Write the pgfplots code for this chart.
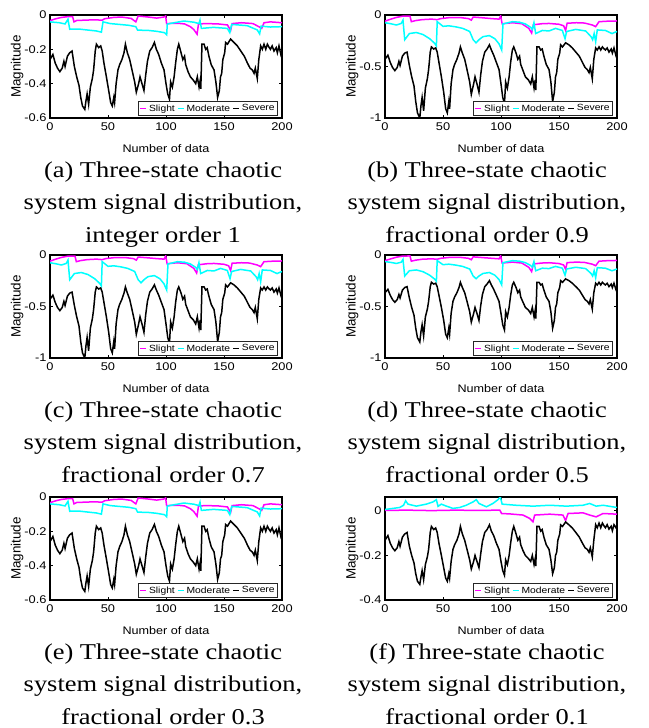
\documentclass[border=0pt]{standalone}
\usepackage{fontspec}
\setmainfont{Liberation Sans}[FakeStretch=1.15]
\newfontfamily\ylabfont{Liberation Sans}
\newfontfamily\capfont{Liberation Serif}[FakeStretch=1.17]
\usepackage{pgfplots}
\pgfplotsset{compat=1.18}
\usepackage{pgfplotstable}
\definecolor{mag}{RGB}{255,0,255}
\definecolor{cya}{RGB}{0,255,255}

% Severe: a = panels (a),(e); b = panels (b),(c); d = panel (d); f = panel (f)
\pgfplotstableread{
x a b d f
0 -0.26 -0.43 -0.366 -0.132
2.5 -0.23 -0.39 -0.333 -0.111
4.5 -0.28 -0.46 -0.391 -0.145
6.5 -0.31 -0.51 -0.433 -0.166
8.5 -0.33 -0.54 -0.459 -0.179
10.5 -0.31 -0.51 -0.433 -0.166
12 -0.27 -0.45 -0.383 -0.138
13 -0.30 -0.49 -0.417 -0.159
15 -0.24 -0.40 -0.341 -0.118
17 -0.22 -0.37 -0.316 -0.104
19 -0.21 -0.36 -0.307 -0.097
21 -0.30 -0.49 -0.417 -0.159
23 -0.36 -0.60 -0.509 -0.200
25 -0.41 -0.69 -0.585 -0.234
26.5 -0.48 -0.84 -0.711 -0.282
28 -0.53 -0.95 -0.803 -0.316
30 -0.55 -1.00 -0.845 -0.330
31 -0.50 -0.88 -0.744 -0.296
32 -0.46 -0.80 -0.677 -0.268
33.3 -0.52 -0.93 -0.786 -0.309
34.8 -0.42 -0.71 -0.601 -0.241
36.5 -0.37 -0.62 -0.526 -0.207
37.6 -0.32 -0.53 -0.450 -0.173
39 -0.21 -0.36 -0.307 -0.097
40 -0.17 -0.31 -0.265 -0.070
42 -0.19 -0.33 -0.282 -0.084
43.7 -0.18 -0.32 -0.274 -0.077
45 -0.21 -0.36 -0.307 -0.097
46.5 -0.28 -0.46 -0.391 -0.145
48.6 -0.36 -0.60 -0.509 -0.200
50.6 -0.44 -0.75 -0.635 -0.255
52.3 -0.51 -0.91 -0.769 -0.302
53.7 -0.53 -0.95 -0.803 -0.316
55 -0.48 -0.84 -0.711 -0.282
55.7 -0.51 -0.91 -0.769 -0.302
57 -0.40 -0.67 -0.568 -0.227
58.6 -0.32 -0.53 -0.450 -0.173
60 -0.29 -0.48 -0.408 -0.152
62 -0.26 -0.43 -0.366 -0.132
63.8 -0.22 -0.37 -0.316 -0.104
65 -0.17 -0.31 -0.265 -0.070
66.7 -0.22 -0.37 -0.316 -0.104
68.7 -0.26 -0.43 -0.366 -0.132
70.7 -0.32 -0.53 -0.450 -0.173
73 -0.39 -0.65 -0.551 -0.220
74.4 -0.45 -0.77 -0.652 -0.261
76.4 -0.40 -0.67 -0.568 -0.227
77.6 -0.36 -0.60 -0.509 -0.200
79.3 -0.40 -0.67 -0.568 -0.227
81 -0.44 -0.75 -0.635 -0.255
82.5 -0.35 -0.58 -0.492 -0.193
84 -0.27 -0.45 -0.383 -0.138
86 -0.21 -0.36 -0.307 -0.097
88 -0.19 -0.33 -0.282 -0.084
90 -0.16 -0.29 -0.249 -0.063
91.7 -0.20 -0.34 -0.291 -0.091
93.7 -0.23 -0.39 -0.333 -0.111
96 -0.28 -0.46 -0.391 -0.145
98.3 -0.32 -0.53 -0.450 -0.173
100 -0.40 -0.67 -0.568 -0.227
101.5 -0.46 -0.80 -0.677 -0.268
103 -0.49 -0.86 -0.727 -0.289
104 -0.39 -0.65 -0.551 -0.220
105.5 -0.42 -0.71 -0.601 -0.241
107 -0.36 -0.60 -0.509 -0.200
108.3 -0.28 -0.46 -0.391 -0.145
109.8 -0.20 -0.34 -0.291 -0.091
111 -0.17 -0.31 -0.265 -0.070
113 -0.22 -0.37 -0.316 -0.104
114.5 -0.26 -0.43 -0.366 -0.132
116 -0.24 -0.40 -0.341 -0.118
117 -0.29 -0.48 -0.408 -0.152
119 -0.33 -0.54 -0.459 -0.179
121 -0.36 -0.60 -0.509 -0.200
123.6 -0.38 -0.63 -0.534 -0.214
125.6 -0.40 -0.67 -0.568 -0.227
127 -0.36 -0.60 -0.509 -0.200
128.5 -0.42 -0.71 -0.601 -0.241
129.5 -0.38 -0.63 -0.534 -0.214
130 -0.43 -0.73 -0.618 -0.248
131 -0.17 -0.31 -0.265 -0.070
132.8 -0.17 -0.31 -0.265 -0.070
134.2 -0.20 -0.34 -0.291 -0.091
135.5 -0.19 -0.33 -0.282 -0.084
137 -0.24 -0.40 -0.341 -0.118
139 -0.29 -0.48 -0.408 -0.152
141.4 -0.32 -0.53 -0.450 -0.173
143 -0.39 -0.65 -0.551 -0.220
144.5 -0.48 -0.84 -0.711 -0.282
146 -0.44 -0.75 -0.635 -0.255
147 -0.36 -0.60 -0.509 -0.200
148 -0.34 -0.56 -0.475 -0.186
149 -0.26 -0.43 -0.366 -0.132
150.6 -0.22 -0.37 -0.316 -0.104
151.4 -0.16 -0.29 -0.249 -0.063
153 -0.17 -0.31 -0.265 -0.070
155.7 -0.14 -0.27 -0.232 -0.050
158.6 -0.16 -0.29 -0.249 -0.063
161.5 -0.18 -0.32 -0.274 -0.077
164.5 -0.21 -0.36 -0.307 -0.097
167.5 -0.24 -0.40 -0.341 -0.118
170.2 -0.28 -0.46 -0.391 -0.145
172.5 -0.31 -0.51 -0.433 -0.166
174.4 -0.32 -0.53 -0.450 -0.173
175.9 -0.34 -0.56 -0.475 -0.186
177 -0.31 -0.51 -0.433 -0.166
178.7 -0.37 -0.62 -0.526 -0.207
180 -0.26 -0.43 -0.366 -0.132
181.6 -0.18 -0.32 -0.274 -0.062
183 -0.20 -0.34 -0.291 -0.076
184.5 -0.17 -0.31 -0.265 -0.055
186 -0.20 -0.34 -0.291 -0.076
187.4 -0.17 -0.31 -0.265 -0.055
189 -0.19 -0.33 -0.282 -0.069
190 -0.20 -0.34 -0.291 -0.076
191.5 -0.18 -0.32 -0.274 -0.062
193.1 -0.21 -0.36 -0.307 -0.082
195 -0.19 -0.33 -0.282 -0.069
196 -0.22 -0.37 -0.316 -0.089
197.4 -0.18 -0.32 -0.274 -0.062
199 -0.23 -0.39 -0.333 -0.075
200 -0.21 -0.36 -0.307 -0.065
}\sev

\pgfplotstableread{
x y
0 -0.033
5 -0.022
10 -0.014
15 -0.010
19.5 -0.010
20.7 -0.040
23 -0.032
30 -0.030
38 -0.028
45 -0.030
47 -0.022
55 -0.014
62 -0.012
70 -0.020
74 -0.040
76 -0.006
85 -0.012
92 -0.018
98 -0.012
99.7 -0.006
100.5 -0.050
110 -0.048
116 -0.052
121 -0.068
124 -0.085
126.8 -0.112
128 -0.052
135 -0.050
145 -0.052
153 -0.058
155.7 -0.090
157 -0.050
165 -0.045
175 -0.050
180 -0.068
182.5 -0.078
184.5 -0.045
190 -0.040
200 -0.045
}\slA

\pgfplotstableread{
x y
0 -0.040
8 -0.045
13 -0.052
15.5 -0.025
17 -0.083
25 -0.082
33 -0.088
40 -0.093
44.3 -0.100
45.7 -0.040
52 -0.050
60 -0.055
68 -0.060
74 -0.068
75.5 -0.088
85 -0.090
92 -0.095
98.8 -0.103
100.6 -0.115
101.1 -0.053
107 -0.045
115.5 -0.035
124 -0.042
128.4 -0.050
129.3 -0.030
130.5 -0.078
141 -0.072
152.9 -0.078
155 -0.103
156.6 -0.055
170 -0.062
178.7 -0.087
180.7 -0.110
182 -0.065
190 -0.070
200 -0.068
}\mdA

\pgfplotstableread{
x y
0 -0.060
5 -0.040
10 -0.023
15 -0.012
21.5 -0.010
22.7 -0.065
26 -0.055
32 -0.045
40 -0.040
45 -0.045
48 -0.035
56 -0.025
65 -0.025
72 -0.035
74.4 -0.050
76 -0.020
85 -0.028
92 -0.035
98.3 -0.040
99.7 -0.010
101 -0.085
110 -0.075
118 -0.085
124 -0.130
126.4 -0.175
127.9 -0.095
135 -0.085
141.4 -0.082
150 -0.090
154 -0.105
155.7 -0.150
157 -0.080
165 -0.075
172 -0.078
178.7 -0.097
181.6 -0.113
184.5 -0.065
192 -0.060
200 -0.058
}\slB

\pgfplotstableread{
x y
0 -0.075
5 -0.085
9.8 -0.097
14 -0.082
15.5 -0.050
17 -0.240
21 -0.180
27 -0.170
32.8 -0.190
38.5 -0.230
42.8 -0.275
44.3 -0.300
45 -0.065
50 -0.110
55 -0.105
61 -0.115
67 -0.130
73 -0.160
76 -0.240
78.5 -0.270
81 -0.240
84.5 -0.210
90 -0.200
94.7 -0.230
98.3 -0.280
100.6 -0.340
101.7 -0.087
109.8 -0.065
116 -0.070
121 -0.087
125.6 -0.120
127 -0.140
128.4 -0.075
129.9 -0.180
135.6 -0.150
141.4 -0.155
147 -0.130
152.9 -0.150
155.2 -0.230
156.6 -0.160
164.4 -0.140
173 -0.155
177.6 -0.210
179 -0.240
180.3 -0.180
181.6 -0.260
183 -0.145
190 -0.150
195.7 -0.180
200 -0.160
}\mdB

\pgfplotstableread{
x y
0 -0.055
5 -0.037
10 -0.021
15 -0.011
21.5 -0.009
22.7 -0.060
26 -0.051
32 -0.041
40 -0.037
45 -0.041
48 -0.032
56 -0.023
65 -0.023
72 -0.032
74.4 -0.046
76 -0.018
85 -0.026
92 -0.032
98.3 -0.037
99.7 -0.009
101 -0.078
110 -0.069
118 -0.078
124 -0.120
126.4 -0.161
127.9 -0.087
135 -0.078
141.4 -0.075
150 -0.083
154 -0.097
155.7 -0.138
157 -0.074
165 -0.069
172 -0.072
178.7 -0.089
181.6 -0.104
184.5 -0.060
192 -0.055
200 -0.053
}\slD

\pgfplotstableread{
x y
0 -0.064
5 -0.072
9.8 -0.082
14 -0.070
15.5 -0.043
17 -0.204
21 -0.153
27 -0.145
32.8 -0.162
38.5 -0.196
42.8 -0.234
44.3 -0.255
45 -0.055
50 -0.094
55 -0.089
61 -0.098
67 -0.111
73 -0.136
76 -0.204
78.5 -0.230
81 -0.204
84.5 -0.179
90 -0.170
94.7 -0.196
98.3 -0.238
100.6 -0.289
101.7 -0.074
109.8 -0.055
116 -0.060
121 -0.074
125.6 -0.102
127 -0.119
128.4 -0.064
129.9 -0.153
135.6 -0.128
141.4 -0.132
147 -0.111
152.9 -0.128
155.2 -0.196
156.6 -0.136
164.4 -0.119
173 -0.132
177.6 -0.179
179 -0.204
180.3 -0.153
181.6 -0.221
183 -0.123
190 -0.128
195.7 -0.153
200 -0.136
}\mdD

\pgfplotstableread{
x y
0 0.002
20 0.003
40 0.001
60 0.003
80 0.002
99 0.003
100.5 -0.012
108 -0.014
119 -0.019
124.7 -0.034
127.6 -0.049
129 -0.019
142 -0.015
153.4 -0.019
155.7 -0.044
157.8 -0.012
170.7 -0.009
176.4 -0.019
182 -0.027
188 -0.012
200 -0.015
}\slF

\pgfplotstableread{
x y
0 0.006
12.6 0.015
16 0.025
17.8 0.045
19.8 0.030
27 0.021
35.6 0.030
41.4 0.040
44.3 0.050
45.7 0.020
48.6 0.030
52.9 0.021
58.6 0.011
64.4 0.015
70 0.025
75.9 0.040
78.7 0.050
81 0.033
87.4 0.018
93 0.033
97.4 0.050
99.4 0.062
101 0.030
113 0.025
127.6 0.021
142 0.025
156.3 0.021
170.7 0.025
176.4 0.033
182 0.021
188 0.025
200 0.015
}\mdF

\pgfplotsset{
  panel/.style={
    scale only axis, width=232bp, height=103bp, anchor=north west,
    xmin=0, xmax=200, xtick={0,50,100,150,200},
    tick align=inside, tick pos=both, major tick length=3bp,
    axis line style={line width=2bp},
    every tick/.style={black, line width=0.8bp},
    tick label style={font=\fontsize{11.2}{11.2}\selectfont},
    xticklabel style={yshift=-1.5bp},
    /pgf/number format/assume math mode=true,
    xlabel={Number of data}, ylabel={Magnitude},
    xlabel style={font=\fontsize{11}{11}\selectfont, inner sep=1bp, yshift=-9bp},
    ylabel style={font=\ylabfont\fontsize{13.5}{13.5}\selectfont},
    ylabel shift=-6bp,
    legend columns=3,
    legend style={at={(rel axis cs:0.983,0.02)}, anchor=south east,
      font=\fontsize{9}{9}\selectfont, draw=black!85, line width=1.2bp,
      inner sep=0.8bp, row sep=0pt,
      /tikz/every even column/.append style={column sep=0.3bp},
      /tikz/every odd column/.append style={column sep=0pt}},
    legend image code/.code={\draw[#1] (0bp,0bp) -- (6bp,0bp);},
  },
  sl/.style={mag, line width=1.5bp},
  md/.style={cya, line width=1.5bp},
  sv/.style={black, line width=1.5bp},
}

\begin{document}
\begin{tikzpicture}
\useasboundingbox (0,0) rectangle (649bp,-728bp);

% (a)
\begin{axis}[panel, at={(50bp,-15bp)}, ymin=-0.6, ymax=0, ytick={-0.6,-0.4,-0.2,0}]
\addplot[sl] table[x=x,y=y]{\slA};
\addplot[md] table[x=x,y=y]{\mdA};
\addplot[sv] table[x=x,y=a]{\sev};
\legend{Slight,Moderate,Severe}
\end{axis}
% (b)
\begin{axis}[panel, at={(385bp,-15bp)}, ymin=-1, ymax=0, ytick={-1,-0.5,0}]
\addplot[sl] table[x=x,y=y]{\slB};
\addplot[md] table[x=x,y=y]{\mdB};
\addplot[sv] table[x=x,y=b]{\sev};
\legend{Slight,Moderate,Severe}
\end{axis}
% (c)
\begin{axis}[panel, at={(50bp,-255bp)}, ymin=-1, ymax=0, ytick={-1,-0.5,0}]
\addplot[sl] table[x=x,y=y]{\slB};
\addplot[md] table[x=x,y=y]{\mdB};
\addplot[sv] table[x=x,y=b]{\sev};
\legend{Slight,Moderate,Severe}
\end{axis}
% (d)
\begin{axis}[panel, at={(385bp,-255bp)}, ymin=-1, ymax=0, ytick={-1,-0.5,0}]
\addplot[sl] table[x=x,y=y]{\slD};
\addplot[md] table[x=x,y=y]{\mdD};
\addplot[sv] table[x=x,y=d]{\sev};
\legend{Slight,Moderate,Severe}
\end{axis}
% (e)
\begin{axis}[panel, at={(50bp,-497bp)}, ymin=-0.6, ymax=0, ytick={-0.6,-0.4,-0.2,0}]
\addplot[sl] table[x=x,y=y]{\slA};
\addplot[md] table[x=x,y=y]{\mdA};
\addplot[sv] table[x=x,y=a]{\sev};
\legend{Slight,Moderate,Severe}
\end{axis}
% (f)
\begin{axis}[panel, at={(385bp,-497bp)}, ymin=-0.4, ymax=0.062, ytick={-0.4,-0.2,0}]
\addplot[sl] table[x=x,y=y]{\slF};
\addplot[md] table[x=x,y=y]{\mdF};
\addplot[sv] table[x=x,y=f]{\sev};
\legend{Slight,Moderate,Severe}
\end{axis}

\begin{scope}[every node/.style={font=\capfont\fontsize{22.7}{22.7}\selectfont, anchor=base, inner sep=0pt}]
\node at (163bp,-177bp) {(a) Three-state chaotic};
\node at (163bp,-209.5bp) {system signal distribution,};
\node at (163bp,-242bp) {integer order 1};
\node at (487bp,-177bp) {(b) Three-state chaotic};
\node at (487bp,-209.5bp) {system signal distribution,};
\node at (487bp,-242bp) {fractional order 0.9};
\node at (163bp,-417bp) {(c) Three-state chaotic};
\node at (163bp,-449.5bp) {system signal distribution,};
\node at (163bp,-482bp) {fractional order 0.7};
\node at (487bp,-417bp) {(d) Three-state chaotic};
\node at (487bp,-449.5bp) {system signal distribution,};
\node at (487bp,-482bp) {fractional order 0.5};
\node at (163bp,-659bp) {(e) Three-state chaotic};
\node at (163bp,-691.5bp) {system signal distribution,};
\node at (163bp,-724bp) {fractional order 0.3};
\node at (487bp,-659bp) {(f) Three-state chaotic};
\node at (487bp,-691.5bp) {system signal distribution,};
\node at (487bp,-724bp) {fractional order 0.1};
\end{scope}
\end{tikzpicture}
\end{document}
